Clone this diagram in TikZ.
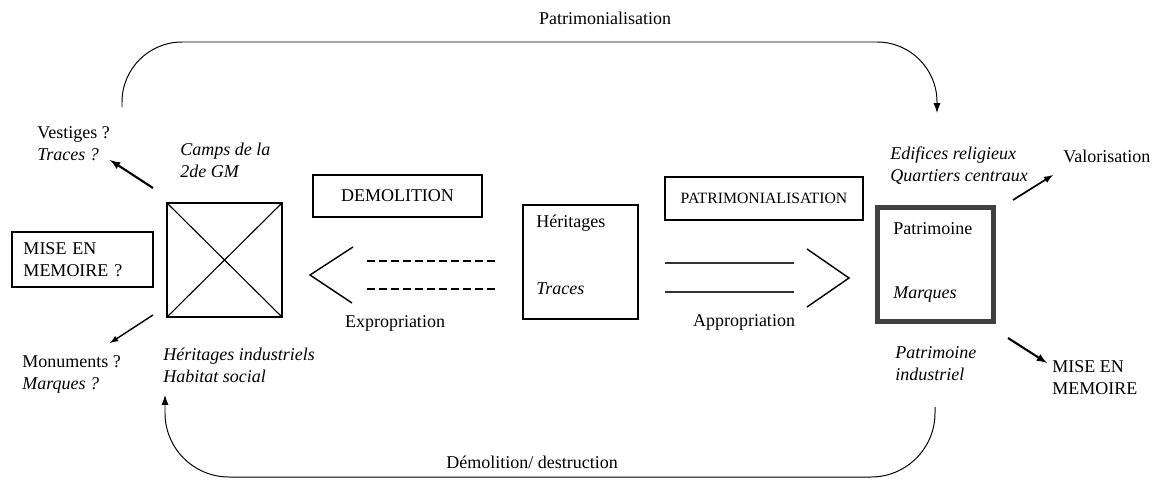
\documentclass[tikz,border=0pt]{standalone}
\usepackage{fontspec}
\setmainfont{Liberation Serif}
\usetikzlibrary{arrows.meta}
\begin{document}
\begin{tikzpicture}[x=0.025cm,y=-0.025cm,>=latex]
				\tikzstyle{box}=[draw,line width=0.8pt,inner sep=0pt]
				\tikzstyle{txt}=[font=\fontsize{12.8}{15.6}\selectfont,inner sep=0pt,align=left]
				\tikzstyle{itx}=[txt,font=\fontsize{12.8}{15.6}\selectfont\itshape]
				\tikzstyle{fat}=[line width=1.5pt]
				\tikzstyle{loop}=[-{Latex[length=7pt,width=5pt]},line width=0.7pt]
				
				\useasboundingbox (0,0) rectangle (1158,482);
				
				\node[box,minimum width=115*0.025cm,minimum height=114*0.025cm](camps) at (224.5,260){};
				\node[box,txt,minimum width=141*0.025cm,minimum height=55*0.025cm,text width=118*0.025cm](mise) at (82.5,259.5){MISE EN\\MEMOIRE ?};
				\node[box,txt,minimum width=169*0.025cm,minimum height=42*0.025cm](demol) at (397.5,196){DEMOLITION};
				\node[box,minimum width=115*0.025cm,minimum height=114*0.025cm](herit) at (580.5,262){};
				\node[box,minimum width=198*0.025cm,minimum height=43*0.025cm,font=\fontsize{11.2}{13}\selectfont](patri) at (764,198.5){PATRIMONIALISATION};
				\node[draw=black!75,line width=3.5pt,inner sep=0pt,minimum width=116*0.025cm,minimum height=114*0.025cm](patrim) at (935.5,264.5){};
				
				\draw[line width=0.8pt] (camps.north west) -- (camps.south east);
				\draw[line width=0.8pt] (camps.north east) -- (camps.south west);
				
				\node[txt,anchor=west](herittxt) at (536,223){Héritages};
				\node[itx,anchor=west](tracestxt) at (536,289){Traces};
				\node[txt,anchor=west](patrimtxt) at (893,229){Patrimoine};
				\node[itx,anchor=west](marqtxt) at (893,295){Marques};
				
				\node[txt,anchor=west](vestiges) at (37,144){Vestiges ?\\\textit{Traces ?}};
				\node[itx,anchor=west](camplbl) at (180,160){Camps de la\\2de GM};
				\node[txt,anchor=west](monum) at (22,374){Monuments ?\\\textit{Marques ?}};
				\node[itx,anchor=west](indus) at (163,365){Héritages industriels\\Habitat social};
				\node[itx,anchor=west](edif) at (890,166){Edifices religieux\\Quartiers centraux};
				\node[txt,anchor=west](valor) at (1063,156){Valorisation};
				\node[txt,anchor=west](memoire) at (1052,378){MISE EN\\MEMOIRE};
				\node[itx,anchor=west](patind) at (895,364){Patrimoine\\industriel};
				
				\node[txt](expro) at (395,323){Expropriation};
				\node[txt](appro) at (744,322){Appropriation};
				\node[txt](toplbl) at (605,18){Patrimonialisation};
				\node[txt](botlbl) at (532,462){Démolition/ destruction};
				
				\coordinate (v1) at (153,188);
				\coordinate (v2) at (110,160);
				\coordinate (m1) at (153,315);
				\coordinate (m2) at (110,343);
				\coordinate (q1) at (1013,200);
				\coordinate (q2) at (1053,175);
				\coordinate (r1) at (1008,338);
				\coordinate (r2) at (1047,363);
				
				\draw[->,fat] (v1) -- (v2);
				\draw[->,line width=1pt] (m1) -- (m2);
				\draw[->,line width=1.2pt] (q1) -- (q2);
				\draw[->,fat] (r1) -- (r2);
				
				\draw[line width=1pt] (353,247) -- (310,275) -- (352,303);
				\draw[line width=1.5pt,dash pattern=on 0.2cm off 0.1cm] (367,261) -- (495,261);
				\draw[line width=1.5pt,dash pattern=on 0.2cm off 0.1cm] (367,289) -- (495,289);
				
				\draw[line width=1.2pt,black!80] (665,263) -- (794,263);
				\draw[line width=1.2pt,black!80] (665,292) -- (794,292);
				\draw[line width=1pt] (807,249) -- (849,278) -- (807,307);
				
				\coordinate (atop1) at (122,107);
				\coordinate (atop2) at (937,113);
				\coordinate (abot1) at (935,407);
				\coordinate (abot2) at (165,395);
				
				\draw[loop,rounded corners=1.5cm] (atop1) -- (122,42) -- (937,42) -- (atop2);
				\draw[loop,rounded corners=1.6cm] (abot1) -- (935,477) -- (165,477) -- (abot2);
				\end{tikzpicture}
\end{document}
